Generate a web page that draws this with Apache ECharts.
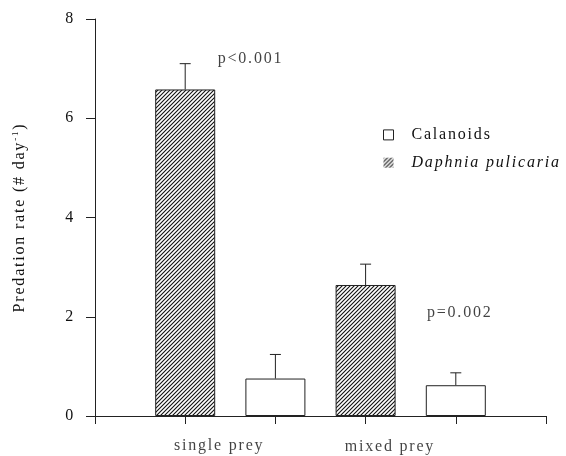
<!DOCTYPE html>
<html>
<head>
<meta charset="utf-8">
<script src="https://cdn.jsdelivr.net/npm/echarts@6/dist/echarts.min.js"></script>
<style>
html,body{margin:0;padding:0;background:#fff;}
#chart{width:566px;height:456px;}
</style>
</head>
<body>
<div id="chart"></div>
<script>
// ---- data ----
const categories = ['single prey', 'mixed prey'];
const categoryPos = [1.376, 3.27];          // where the group labels sit on the x scale
const seriesNames = ['Calanoids', 'Daphnia pulicaria'];
const daphniaX = [1, 3];
const daphniaMean = [6.58, 2.64];
const daphniaUpper = [7.10, 3.06];
const calanoidX = [2, 4];
const calanoidMean = [0.755, 0.62];
const calanoidUpper = [1.24, 0.87];
const pLabels = ['p<0.001', 'p=0.002'];
const pPos = [[1.36, 7.19], [3.68, 2.07]];
const yTicks = [0, 2, 4, 6, 8];

// letter-spaced serif text like the reference
(function () {
  const P = CanvasRenderingContext2D.prototype;
  const LS = '1.8px';
  const f = P.fillText, m = P.measureText;
  P.fillText = function (t, x, y, w) {
    try { this.letterSpacing = LS; } catch (e) {}
    return w === undefined ? f.call(this, t, x, y) : f.call(this, t, x, y, w);
  };
  P.measureText = function (t) {
    try { this.letterSpacing = LS; } catch (e) {}
    return m.call(this, t);
  };
})();

const FONT = '"Liberation Serif", "Times New Roman", serif';
const TXT = '#111';
const FS = 16;

// hatch pattern
const hatch = document.createElement('canvas');
hatch.width = 4; hatch.height = 4;
(function () {
  const c = hatch.getContext('2d');
  c.strokeStyle = '#111';
  c.lineWidth = 1.1;
  c.beginPath();
  c.moveTo(-1, 5); c.lineTo(5, -1);
  c.moveTo(-1, 1); c.lineTo(1, -1);
  c.moveTo(3, 5); c.lineTo(5, 3);
  c.stroke();
})();

const errData = [];
daphniaX.forEach((x, i) => errData.push([x, daphniaMean[i], daphniaUpper[i]]));
calanoidX.forEach((x, i) => errData.push([x, calanoidMean[i], calanoidUpper[i]]));

const chart = echarts.init(document.getElementById('chart'), null, { renderer: 'canvas' });
chart.setOption({
  animation: false,
  backgroundColor: '#fff',
  textStyle: { fontFamily: FONT, color: TXT },
  grid: { left: 95, right: 20, top: 19, bottom: 40, containLabel: false },
  legend: {
    orient: 'vertical',
    left: 383,
    top: 126,
    padding: 0,
    itemWidth: 10,
    itemHeight: 10,
    itemGap: 10,
    data: [
      { name: seriesNames[0], icon: 'rect', itemStyle: { color: '#fff', borderColor: '#222', borderWidth: 1 } },
      { name: seriesNames[1], icon: 'rect', itemStyle: { borderWidth: 0 } }
    ],
    formatter: function (n) { return n === seriesNames[1] ? '{i|' + n + '}' : '{n|' + n + '}'; },
    textStyle: {
      fontFamily: FONT, fontSize: FS, color: TXT,
      rich: {
        n: { fontFamily: FONT, fontSize: FS, color: TXT, padding: [0, 0, 0, 13] },
        i: { fontFamily: FONT, fontSize: FS, color: TXT, fontStyle: 'italic', padding: [0, 0, 0, 13] }
      }
    }
  },
  xAxis: {
    type: 'value', min: 0, max: 5, interval: 1,
    axisLine: { show: true, onZero: false, lineStyle: { color: '#222', width: 1 } },
    axisTick: { show: true, length: 8, lineStyle: { color: '#222' } },
    axisLabel: { show: false },
    splitLine: { show: false }
  },
  yAxis: {
    type: 'value', min: yTicks[0], max: yTicks[yTicks.length - 1], interval: yTicks[1] - yTicks[0],
    name: 'Predation rate (# day{s|-1})',
    nameLocation: 'middle',
    nameGap: 66,
    nameTextStyle: {
      fontFamily: FONT, fontSize: FS, color: TXT,
      rich: { s: { fontFamily: FONT, fontSize: 9, color: TXT, verticalAlign: 'top', padding: [0, 0, 8, 0] } }
    },
    axisLine: { show: true, lineStyle: { color: '#222', width: 1 } },
    axisTick: { show: true, length: 9, lineStyle: { color: '#222' } },
    axisLabel: { margin: 20, fontFamily: FONT, fontSize: FS, color: TXT },
    splitLine: { show: false }
  },
  series: [
    {
      name: seriesNames[0],
      type: 'bar',
      barWidth: 60,
      barGap: '-100%',
      data: calanoidX.map((x, i) => [x, calanoidMean[i]]),
      itemStyle: { color: '#fff', borderColor: '#222', borderWidth: 1 }
    },
    {
      name: seriesNames[1],
      type: 'bar',
      barWidth: 60,
      barGap: '-100%',
      data: daphniaX.map((x, i) => [x, daphniaMean[i]]),
      itemStyle: { color: { image: hatch, repeat: 'repeat' }, borderColor: '#222', borderWidth: 1 }
    },
    {
      name: 'err',
      type: 'custom',
      data: errData,
      z: 3,
      renderItem: function (params, api) {
        const x = api.value(0);
        const a = api.coord([x, api.value(1)]);
        const b = api.coord([x, api.value(2)]);
        const st = { stroke: '#222', lineWidth: 1 };
        return {
          type: 'group',
          children: [
            { type: 'line', shape: { x1: a[0], y1: a[1], x2: b[0], y2: b[1] }, style: st },
            { type: 'line', shape: { x1: b[0] - 5.5, y1: b[1], x2: b[0] + 5.5, y2: b[1] }, style: st }
          ]
        };
      }
    },
    {
      name: 'plabels',
      type: 'scatter',
      symbolSize: 0,
      clip: false,
      silent: true,
      data: pPos.map((p, i) => [p[0], p[1], pLabels[i]]),
      label: {
        show: true, position: 'inside', align: 'left', verticalAlign: 'middle',
        formatter: function (p) { return p.value[2]; },
        fontFamily: FONT, fontSize: FS, color: TXT
      }
    },
    {
      name: 'catlabels',
      type: 'scatter',
      symbolSize: 0,
      clip: false,
      silent: true,
      data: categories.map((c, i) => [categoryPos[i], -0.6 - i * 0.03, c]),
      label: {
        show: true, position: 'inside', align: 'center', verticalAlign: 'middle',
        formatter: function (p) { return p.value[2]; },
        fontFamily: FONT, fontSize: FS, color: TXT
      }
    }
  ]
});
</script>
</body>
</html>
